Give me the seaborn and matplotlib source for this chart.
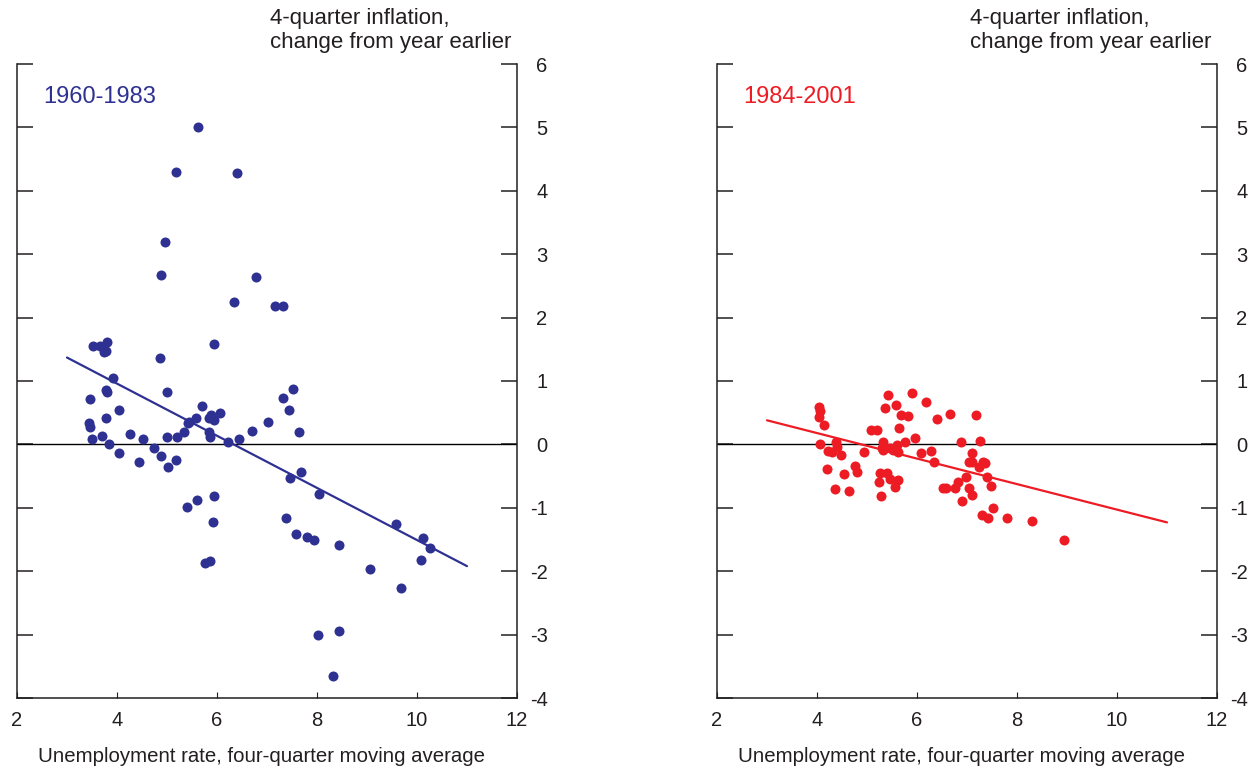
import numpy as np
import pandas as pd
import seaborn as sns
import matplotlib
matplotlib.use("Agg")
import matplotlib.pyplot as plt

# ---------------- data ----------------
early_unemp = [5.61, 5.17, 6.39, 4.96, 4.89, 6.78, 6.33, 7.16, 7.31, 5.93, 3.51, 3.65, 3.79, 3.73, 3.78,
               4.86, 3.91, 3.78, 3.79, 3.45, 4.99, 4.04, 3.77, 5.69, 5.57, 5.41, 5.44, 5.88, 5.83, 5.94,
               6.05, 3.43, 3.45, 3.49, 3.70, 3.83, 4.04, 4.27, 4.51, 4.74, 4.89, 4.44, 5.02, 5.17, 4.99,
               5.19, 5.33, 5.83, 5.86, 6.22, 6.43, 6.70, 7.01, 7.31, 7.51, 7.43, 7.63, 7.67, 7.46, 5.39,
               5.59, 5.93, 5.91, 5.76, 5.86, 8.04, 7.38, 7.58, 7.80, 7.93, 8.43, 9.05, 9.57, 10.12, 10.25,
               10.07, 9.67, 8.01, 8.45, 8.32]
early_infl = [5.00, 4.30, 4.28, 3.19, 2.67, 2.64, 2.24, 2.18, 2.18, 1.58, 1.55, 1.55, 1.62, 1.46, 1.47,
              1.36, 1.04, 0.86, 0.82, 0.72, 0.83, 0.55, 0.42, 0.61, 0.42, 0.33, 0.36, 0.46, 0.41, 0.38,
              0.50, 0.33, 0.27, 0.08, 0.13, 0.01, -0.14, 0.16, 0.09, -0.06, -0.18, -0.27, -0.35, -0.25, 0.11,
              0.12, 0.19, 0.19, 0.12, 0.03, 0.08, 0.21, 0.35, 0.73, 0.87, 0.54, 0.19, -0.43, -0.53, -0.98,
              -0.88, -0.82, -1.23, -1.87, -1.84, -0.79, -1.16, -1.42, -1.46, -1.50, -1.59, -1.97, -1.26, -1.47, -1.64,
              -1.82, -2.27, -3.01, -2.94, -3.66]

late_unemp = [4.04, 4.06, 4.03, 4.13, 4.06, 4.21, 4.29, 4.37, 4.39, 4.47, 4.19, 4.53, 4.76, 4.79, 4.36,
              4.63, 4.94, 5.08, 5.19, 5.31, 5.29, 5.31, 5.41, 5.36, 5.58, 5.67, 5.81, 5.63, 5.90, 6.18,
              5.95, 5.46, 5.51, 5.59, 5.62, 5.75, 5.26, 5.39, 5.23, 5.46, 5.61, 5.56, 5.28, 6.07, 6.28,
              6.34, 6.40, 6.65, 6.52, 6.58, 6.76, 6.82, 6.97, 6.90, 7.03, 7.10, 6.88, 7.18, 7.10, 7.04,
              7.09, 7.25, 7.31, 7.35, 7.24, 7.40, 7.47, 7.51, 7.29, 7.42, 7.79, 8.29, 8.94]
late_infl = [0.59, 0.53, 0.44, 0.30, 0.00, -0.10, -0.12, 0.03, -0.04, -0.17, -0.39, -0.47, -0.34, -0.44, -0.71,
             -0.74, -0.12, 0.22, 0.23, 0.04, -0.06, -0.09, 0.78, 0.57, 0.62, 0.46, 0.45, 0.26, 0.81, 0.67,
             0.10, -0.06, -0.09, -0.01, -0.12, 0.03, -0.45, -0.45, -0.60, -0.55, -0.56, -0.67, -0.82, -0.14, -0.10,
             -0.28, 0.40, 0.48, -0.69, -0.69, -0.68, -0.60, -0.52, -0.90, -0.68, -0.80, 0.03, 0.46, -0.13, -0.27,
             -0.28, 0.06, -0.28, -0.30, -0.35, -0.52, -0.65, -1.00, -1.11, -1.16, -1.16, -1.21, -1.51]

fit_x = [3, 11]
early_fit = [1.37, -1.92]
late_fit = [0.38, -1.23]

x_ticks = [2, 4, 6, 8, 10, 12]
y_ticks = [-4, -3, -2, -1, 0, 1, 2, 3, 4, 5, 6]

panel_labels = ["1960-1983", "1984-2001"]
y_title = "4-quarter inflation,\nchange from year earlier"
x_title = "Unemployment rate, four-quarter moving average"

NAVY = "#2E3192"
RED = "#ED1C24"
INK = "#231F20"

# ---------------- style ----------------
sns.set_theme(style="white")
plt.rcParams["font.family"] = ["Liberation Sans", "DejaVu Sans"]
plt.rcParams["axes.unicode_minus"] = False

W, H = 1255, 769
fig = plt.figure(figsize=(W / 100, H / 100), dpi=100)

def px_rect(x0, x1, y0, y1):
    return [x0 / W, 1 - y1 / H, (x1 - x0) / W, (y1 - y0) / H]

axL = fig.add_axes(px_rect(17, 517, 64, 698))
axR = fig.add_axes(px_rect(717, 1217, 64, 698))

panels = [
    (axL, early_unemp, early_infl, early_fit, NAVY, panel_labels[0]),
    (axR, late_unemp, late_infl, late_fit, RED, panel_labels[1]),
]

for ax, xs, ys, fy, col, lab in panels:
    df = pd.DataFrame({"u": xs, "p": ys})
    fdf = pd.DataFrame({"u": fit_x, "p": fy})
    ax.axhline(0, color="black", lw=1.0, zorder=1)
    sns.scatterplot(data=df, x="u", y="p", ax=ax, color=col, s=52,
                    linewidth=0, zorder=3)
    sns.lineplot(data=fdf, x="u", y="p", ax=ax, color=col, lw=1.6, zorder=4)

    ax.set_xlim(2, 12)
    ax.set_ylim(-4, 6)
    ax.set_xticks(x_ticks)
    ax.set_yticks(y_ticks)
    ax.set_xlabel("")
    ax.set_ylabel("")

    for side in ["left", "right", "bottom"]:
        ax.spines[side].set_visible(True)
        ax.spines[side].set_color(INK)
        ax.spines[side].set_linewidth(1.1)
    ax.spines["top"].set_visible(False)

    ax.tick_params(axis="y", which="both", left=True, right=True, direction="in",
                   length=11.5, width=1.1, color=INK, labelleft=False, labelright=True,
                   labelsize=14.5, pad=22, labelcolor=INK)
    ax.tick_params(axis="x", which="both", bottom=True, top=False, direction="in",
                   length=4.5, width=0.8, color=INK, labelsize=14.5, pad=9, labelcolor=INK)
    for t in ax.get_yticklabels():
        t.set_ha("right")

    ax.text(0.052, 0.948, lab, transform=ax.transAxes, color=col, fontsize=17,
            ha="left", va="center")
    ax.text(0.506, 1.053, y_title, transform=ax.transAxes, color=INK, fontsize=16,
            ha="left", va="center", linespacing=1.17)
    ax.text(0.49, -0.093, x_title, transform=ax.transAxes, color=INK, fontsize=14.7,
            ha="center", va="center")
    ax.set_facecolor("white")

fig.savefig("out.png", dpi=100, facecolor="white")
